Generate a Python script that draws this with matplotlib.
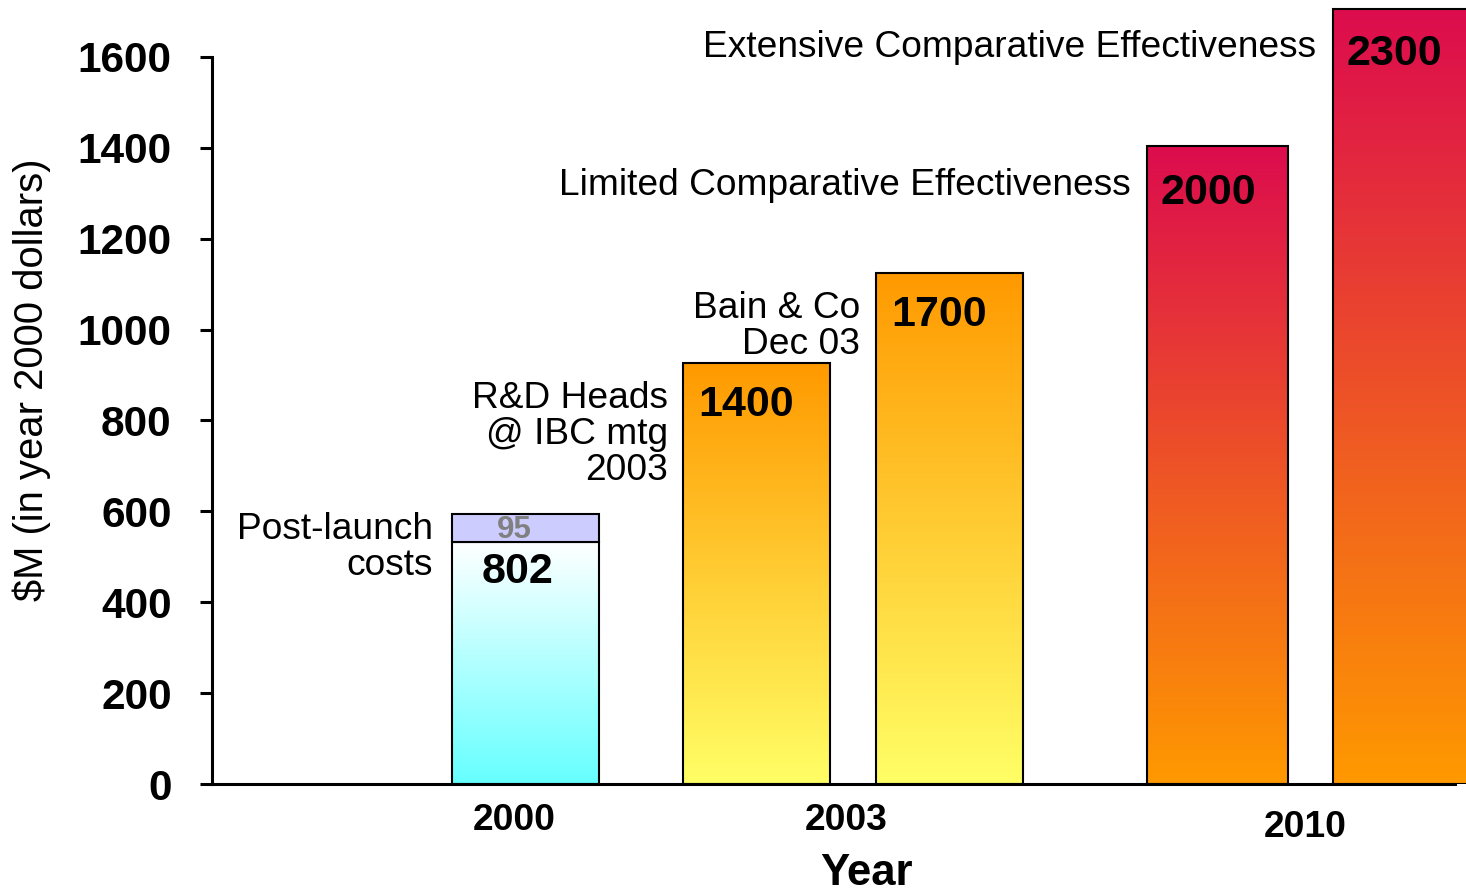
import numpy as np
import matplotlib
matplotlib.use("Agg")
import matplotlib.pyplot as plt
from matplotlib.colors import LinearSegmentedColormap
from matplotlib.transforms import ScaledTranslation

plt.rcParams['font.family'] = ['Liberation Sans', 'DejaVu Sans']

# Values: bar heights as drawn on the $M axis,
# and the numbers printed on each bar
bar_heights = [533, 926, 1125, 1404, 1706]
bar_labels = ['802', '1400', '1700', '2000', '2300']
post_launch_height = 61
post_launch_label = '95'
year_labels = ['2000', '2003', '2010']
y_ticks = [0, 200, 400, 600, 800, 1000, 1200, 1400, 1600]
notes = ['Post-launch\ncosts', 'R&D Heads\n@ IBC mtg\n2003', 'Bain & Co\nDec 03',
         'Limited Comparative Effectiveness', 'Extensive Comparative Effectiveness']

# Layout (x runs in pixel-like units across the plot area)
bar_left = [452, 683, 876, 1147, 1333]
bar_width = [147, 147, 147, 141, 147]
year_pos = [514, 846, 1305]
note_x = [433, 668, 860, 1131, 1316]
note_y = [521, 769, 1006, 1316, 1620]
label_dx = [30, 15, 15, 14, 14]
label_dy = [30, 42, 42, 47, 45]
grad_top = ['#FFFFFF', '#FF9900', '#FF9900', '#DC0C4E', '#DC0C4E']
grad_bottom = ['#66FFFF', '#FFFF66', '#FFFF66', '#FF9900', '#FF9900']

fig = plt.figure(figsize=(14.66, 8.93), dpi=100)
ax = fig.add_axes([212 / 1466, 109 / 893, 1254 / 1466, 781.6 / 893])
ax.set_xlim(212, 1466)
ax.set_ylim(0, 1720)

# Bars (outline only) and gradient fill clipped to each bar
bars = ax.bar(bar_left, bar_heights, width=bar_width, align='edge',
              facecolor='none', edgecolor='black', linewidth=1.5, zorder=3)
grad = np.linspace(0, 1, 256).reshape(-1, 1)
for b, top, bottom in zip(bars, grad_top, grad_bottom):
    cmap = LinearSegmentedColormap.from_list('g', [bottom, top])
    x0, w, h = b.get_x(), b.get_width(), b.get_height()
    im = ax.imshow(grad, cmap=cmap, origin='lower', aspect='auto',
                   extent=[x0, x0 + w, 0, h], zorder=2)
    im.set_clip_path(b)

# Post-launch costs on top of the 2000 bar
pl = ax.bar(bar_left[0], post_launch_height, bottom=bar_heights[0], width=bar_width[0],
            align='edge', color='#CCCCFF', edgecolor='black', linewidth=1.5, zorder=3)
ax.text(bar_left[0] + bar_width[0] / 2 - 11, bar_heights[0] + post_launch_height / 2 - 5,
        post_launch_label, ha='center', va='center', fontsize=22.5, fontweight='bold',
        color='#808080', zorder=4)

# Numbers on the bars
for b, lab, dx, dy in zip(bars, bar_labels, label_dx, label_dy):
    ax.annotate(lab, (b.get_x(), b.get_height()), xytext=(dx * 0.72, -dy * 0.72),
                textcoords='offset points', ha='left', va='center',
                fontsize=31, fontweight='bold', zorder=4)

# Notes next to the bars
for txt, x, y in zip(notes, note_x, note_y):
    ax.text(x, y, txt, ha='right', va='center', multialignment='right',
            fontsize=26.7, linespacing=1.03)

# Axes styling
ax.spines['top'].set_visible(False)
ax.spines['right'].set_visible(False)
ax.spines['left'].set_linewidth(2.2)
ax.spines['bottom'].set_linewidth(2.2)
ax.spines['left'].set_bounds(0, 1600)
ax.spines['bottom'].set_bounds(212, 1455)

ax.set_yticks(y_ticks)
ax.set_yticklabels([str(t) for t in y_ticks], fontsize=30.5, fontweight='bold')
ax.tick_params(axis='y', direction='out', length=9, width=2.2, pad=20)

ax.set_xticks(year_pos)
ax.set_xticklabels(year_labels, fontsize=26.8, fontweight='bold')
ax.tick_params(axis='x', length=0, pad=14)
lab2010 = ax.get_xticklabels()[2]
lab2010.set_transform(lab2010.get_transform() + ScaledTranslation(0, -0.07, fig.dpi_scale_trans))

ax.set_ylabel('$M (in year 2000 dollars)', fontsize=28.8)
ax.yaxis.set_label_coords(-0.1435, 0.517)
ax.yaxis.label.set_verticalalignment('center')
ax.set_xlabel('Year', fontsize=31.5, fontweight='bold')
ax.xaxis.set_label_coords(0.522, -0.114)
ax.xaxis.label.set_verticalalignment('center')

fig.savefig('out.png', dpi=100)
